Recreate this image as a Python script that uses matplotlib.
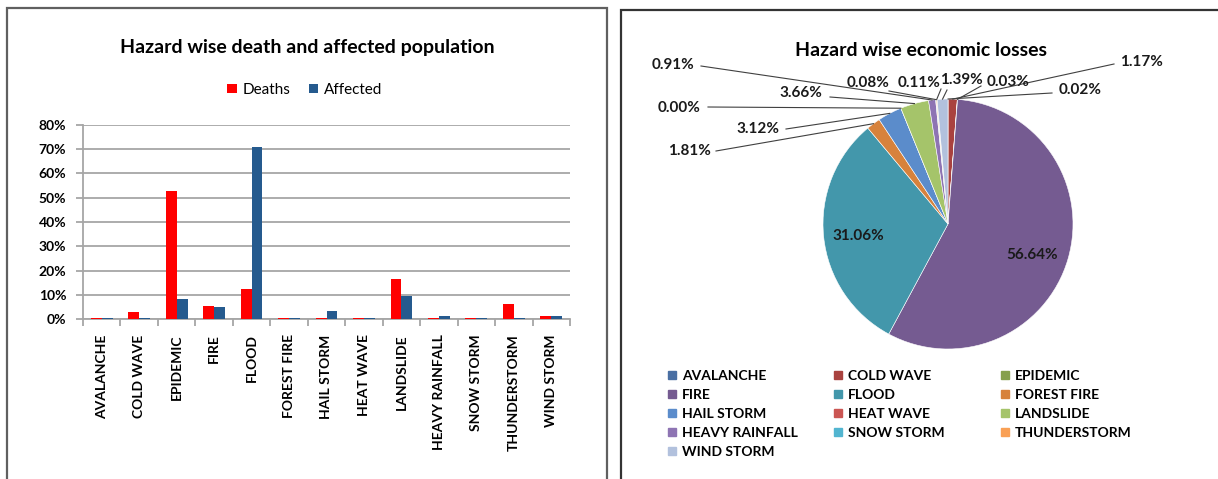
import matplotlib.pyplot as plt
from matplotlib.patches import Rectangle, Patch
import numpy as np

plt.rcParams['font.family'] = ['Lato', 'DejaVu Sans']

# data
hazards = ['AVALANCHE', 'COLD WAVE', 'EPIDEMIC', 'FIRE', 'FLOOD', 'FOREST FIRE',
           'HAIL STORM', 'HEAT WAVE', 'LANDSLIDE', 'HEAVY RAINFALL', 'SNOW STORM',
           'THUNDERSTORM', 'WIND STORM']
deaths = [0.6, 2.9, 52.8, 5.3, 12.3, 0.6, 0.6, 0.6, 16.7, 0.6, 0.6, 6.0, 1.2]
affected = [0.6, 0.6, 8.2, 4.9, 70.9, 0.6, 3.3, 0.6, 9.3, 1.2, 0.6, 0.6, 1.2]
losses = [0.02, 1.17, 0.03, 56.64, 31.06, 1.81, 3.12, 0.00, 3.66, 0.91, 0.08, 0.11, 1.39]
loss_colors = ['#4A6FA3', '#A9423F', '#86A04D', '#755B91', '#4397AB', '#D7823C',
               '#5B8CCB', '#CB5653', '#A5C46A', '#8E74B3', '#52B5D0', '#F9A055', '#B2C1DD']

W, H = 1218, 479
fig = plt.figure(figsize=(W / 100, H / 100), dpi=100)

# overlay axes in pixel units (y measured from top via H - y)
ax0 = fig.add_axes([0, 0, 1, 1])

# panel frames
ax0.add_patch(Rectangle((6.5, -20), 600.5, H - 7.5 + 20, fill=False, ec='#606060', lw=1.6))
ax0.add_patch(Rectangle((621, -20), 640, H - 9.5 + 20, fill=False, ec='#333333', lw=1.6))

# ---- pie ----
cx, cy, r = 948, H - 224, 125
wedges, _ = ax0.pie(losses, colors=loss_colors, startangle=90, counterclock=False,
                    center=(cx, cy), radius=r,
                    wedgeprops=dict(edgecolor='white', linewidth=0.4))
ax0.set_xlim(0, W)
ax0.set_ylim(0, H)
ax0.set_aspect('auto')
ax0.axis('off')

# label layout: (text x, text y, attach x, attach y) in pixels from top-left; None = inside
label_layout = [
    (1080, 90, 1052, 93),
    (1141, 62, 1114, 64),
    (1008, 82, 981, 86),
    None,
    None,
    (689, 151, 716, 151),
    (758, 129, 786, 129),
    (679, 108, 708, 107),
    (801, 93, 830, 97),
    (673, 65, 701, 66),
    (868, 83, 889, 91),
    (919, 83, 941, 89),
    (961, 80, 947, 90),
]
inside_pos = {3: (1032, 255), 4: (858, 236)}

for i, (w, v) in enumerate(zip(wedges, losses)):
    txt = f'{v:.2f}%'
    if label_layout[i] is None:
        tx, ty = inside_pos[i]
        ax0.text(tx, H - ty, txt, ha='center', va='center', fontsize=11,
                 fontweight='bold', color='#1a1a1a')
        continue
    tx, ty, ax_, ay = label_layout[i]
    mid = np.deg2rad((w.theta1 + w.theta2) / 2)
    ex, ey = cx + r * np.cos(mid), cy + r * np.sin(mid)
    ax0.plot([ax_, ex], [H - ay, ey], color='#404040', lw=0.8)
    ax0.text(tx, H - ty, txt, ha='center', va='center', fontsize=11,
             fontweight='bold', color='#1a1a1a')

fig.text(921 / W, 1 - 51 / H, 'Hazard wise economic losses', ha='center', va='center',
         fontsize=14, fontweight='bold')

# pie legend: three columns, filled row-wise
col_x = [668, 834, 1001]
legs = []
for c in range(3):
    idx = list(range(c, len(hazards), 3))
    handles = [Patch(color=loss_colors[k]) for k in idx]
    leg = ax0.legend(handles, [hazards[k] for k in idx], loc='upper left',
                     bbox_to_anchor=(col_x[c], H - 370), bbox_transform=ax0.transData,
                     frameon=False, borderpad=0, borderaxespad=0,
                     handlelength=0.55, handleheight=0.55, handletextpad=0.45,
                     labelspacing=0.5, prop=dict(weight='bold', size=10))
    legs.append(leg)
for leg in legs[:-1]:
    ax0.add_artist(leg)

# ---- bar chart ----
ax = fig.add_axes([83 / W, (H - 319) / H, (570 - 83) / W, (319 - 125) / H])
x = np.arange(len(hazards))
bw = 0.29
ax.bar(x - bw / 2, deaths, width=bw, color='#FF0000', label='Deaths', zorder=3)
ax.bar(x + bw / 2, affected, width=bw, color='#255A8E', label='Affected', zorder=3)
ax.set_xlim(-0.5, len(hazards) - 0.5)
ax.set_ylim(0, 80)
ax.set_yticks(np.arange(0, 81, 10))
ax.set_yticklabels([f'{v}%' for v in range(0, 81, 10)], fontsize=10, fontweight='bold')
ax.yaxis.grid(True, color='#a6a6a6', lw=1.3, zorder=0)
ax.set_axisbelow(True)
for s in ['top', 'right']:
    ax.spines[s].set_visible(False)
for s in ['left', 'bottom']:
    ax.spines[s].set_color('#a6a6a6')
    ax.spines[s].set_linewidth(1.3)
ax.set_xticks(x)
ax.set_xticklabels(hazards, rotation=90, fontsize=10, fontweight='bold', va='top')
ax.set_xticks(np.arange(-0.5, len(hazards), 1), minor=True)
ax.tick_params(axis='x', which='major', length=0, pad=11)
ax.tick_params(axis='x', which='minor', length=5, color='#a6a6a6', width=1.3)
ax.tick_params(axis='y', length=5, color='#a6a6a6', width=1.3, pad=7)

fig.text(307 / W, 1 - 48 / H, 'Hazard wise death and affected population', ha='center',
         va='center', fontsize=14, fontweight='bold')
ax.legend(loc='center', bbox_to_anchor=(305 / W, 1 - 90 / H), bbox_transform=fig.transFigure,
          ncol=2, frameon=False, handlelength=0.6, handleheight=0.6, handletextpad=0.4,
          columnspacing=1.2, fontsize=11)

fig.savefig('out.png', dpi=100)
